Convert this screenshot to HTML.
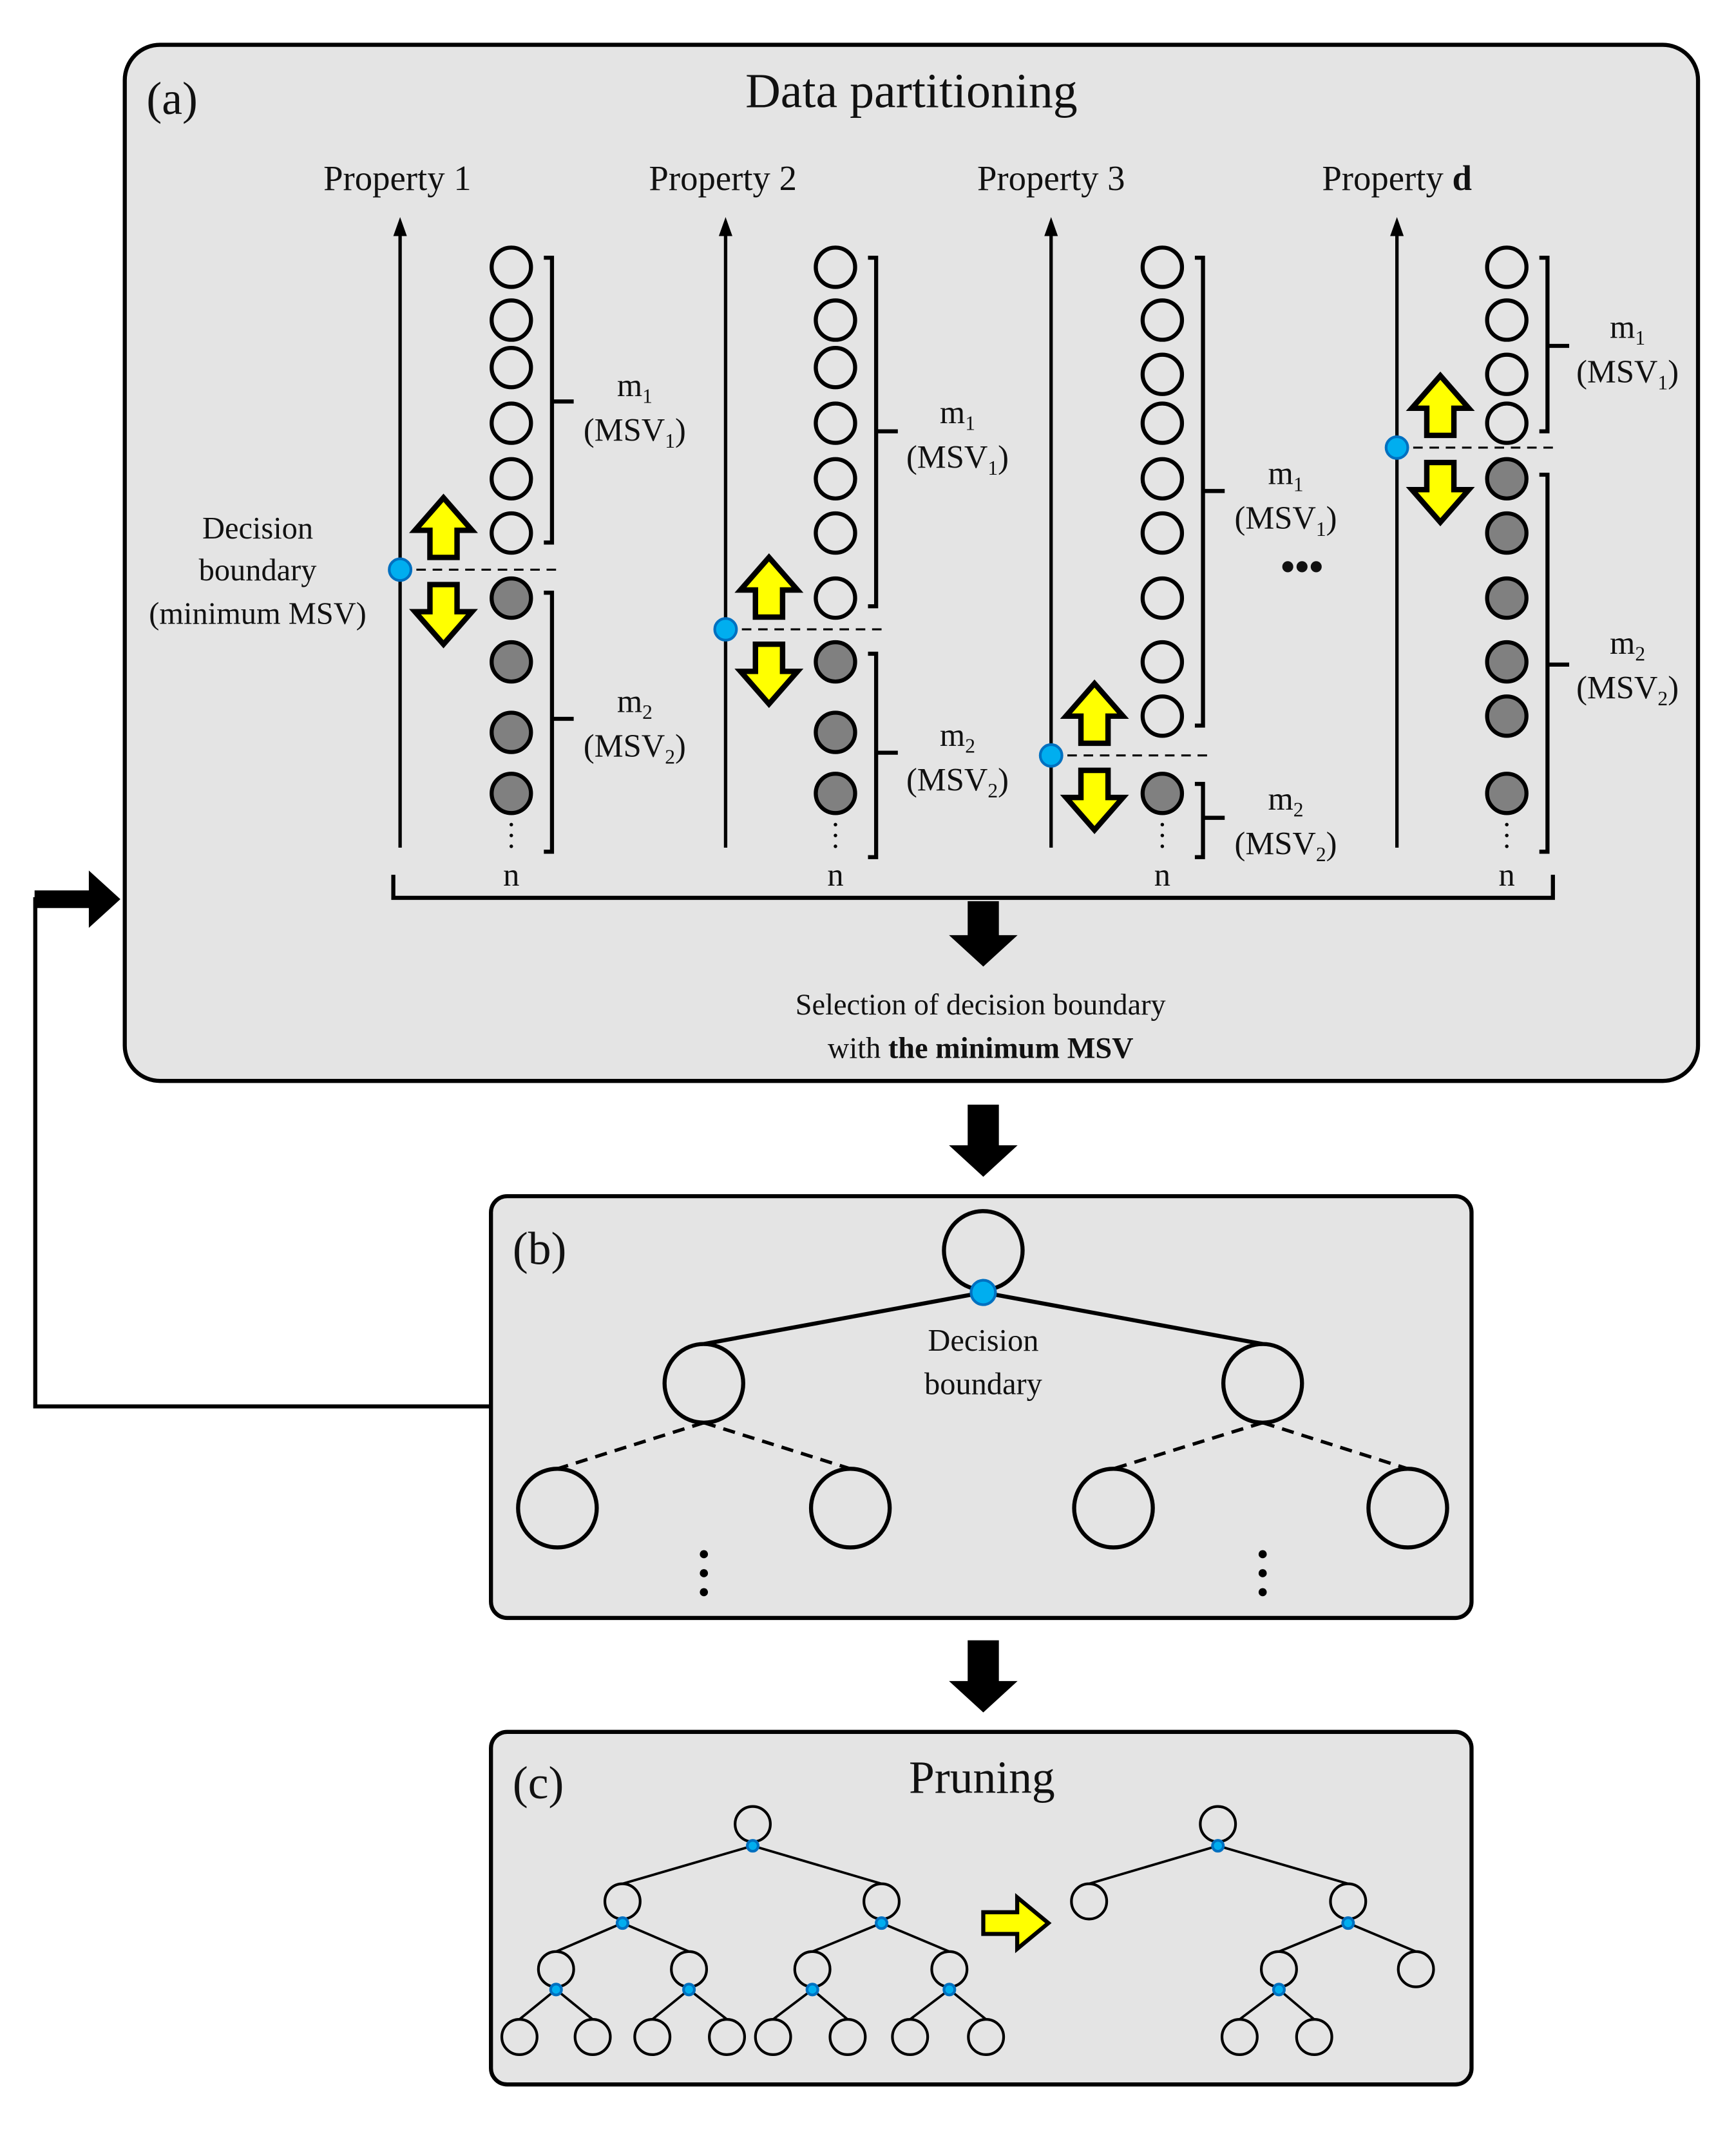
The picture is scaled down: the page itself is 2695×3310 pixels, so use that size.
<!DOCTYPE html>
<html><head><meta charset="utf-8"><style>
html,body{margin:0;padding:0;background:#fff}
svg{display:block}
svg text{font-family:"Liberation Serif","Times New Roman",Times,serif;fill:#111}
</style></head><body>
<svg id="s" width="2695" height="3310" viewBox="0 0 1280 1572" xmlns="http://www.w3.org/2000/svg" font-family="Liberation Serif, Times New Roman, serif">
<rect x="92" y="33" width="1160" height="764" rx="26" fill="#e4e4e4" stroke="#000" stroke-width="3"/>
<rect x="362" y="882" width="723" height="311" rx="12" fill="#e4e4e4" stroke="#000" stroke-width="3"/>
<rect x="362" y="1277" width="723" height="260" rx="12" fill="#e4e4e4" stroke="#000" stroke-width="3"/>

<text x="108" y="84" font-size="34">(a)</text>
<text x="672" y="79" font-size="36" text-anchor="middle">Data partitioning</text>
<text x="293" y="140" font-size="26" text-anchor="middle">Property 1</text>
<text x="533" y="140" font-size="26" text-anchor="middle">Property 2</text>
<text x="775" y="140" font-size="26" text-anchor="middle">Property 3</text>
<text x="1030" y="140" font-size="26" text-anchor="middle">Property <tspan font-weight="bold">d</tspan></text>

<text x="190" y="397" font-size="23" text-anchor="middle">Decision</text>
<text x="190" y="428" font-size="23" text-anchor="middle">boundary</text>
<text x="190" y="460" font-size="23" text-anchor="middle">(minimum MSV)</text>

<g font-size="24" text-anchor="middle">
<text x="468" y="292">m<tspan font-size="15" dy="5">1</tspan></text>
<text x="468" y="325">(MSV<tspan font-size="15" dy="5">1</tspan><tspan dy="-5">)</tspan></text>
<text x="468" y="525">m<tspan font-size="15" dy="5">2</tspan></text>
<text x="468" y="558">(MSV<tspan font-size="15" dy="5">2</tspan><tspan dy="-5">)</tspan></text>
<text x="706" y="312">m<tspan font-size="15" dy="5">1</tspan></text>
<text x="706" y="345">(MSV<tspan font-size="15" dy="5">1</tspan><tspan dy="-5">)</tspan></text>
<text x="706" y="550">m<tspan font-size="15" dy="5">2</tspan></text>
<text x="706" y="583">(MSV<tspan font-size="15" dy="5">2</tspan><tspan dy="-5">)</tspan></text>
<text x="948" y="357">m<tspan font-size="15" dy="5">1</tspan></text>
<text x="948" y="390">(MSV<tspan font-size="15" dy="5">1</tspan><tspan dy="-5">)</tspan></text>
<text x="948" y="597">m<tspan font-size="15" dy="5">2</tspan></text>
<text x="948" y="630">(MSV<tspan font-size="15" dy="5">2</tspan><tspan dy="-5">)</tspan></text>
<text x="1200" y="249">m<tspan font-size="15" dy="5">1</tspan></text>
<text x="1200" y="282">(MSV<tspan font-size="15" dy="5">1</tspan><tspan dy="-5">)</tspan></text>
<text x="1200" y="482">m<tspan font-size="15" dy="5">2</tspan></text>
<text x="1200" y="515">(MSV<tspan font-size="15" dy="5">2</tspan><tspan dy="-5">)</tspan></text>
<text x="377" y="653">n</text><text x="616" y="653">n</text><text x="857" y="653">n</text><text x="1111" y="653">n</text>
</g>
<text x="960" y="428" font-size="30" text-anchor="middle" font-weight="bold">•••</text>

<text x="723" y="748" font-size="22" text-anchor="middle">Selection  of decision  boundary</text>
<text x="723" y="780" font-size="22" text-anchor="middle">with <tspan font-weight="bold">the minimum  MSV</tspan></text>

<text x="378" y="932" font-size="34">(b)</text>
<text x="725" y="996" font-size="23" text-anchor="middle">Decision</text>
<text x="725" y="1028" font-size="23" text-anchor="middle">boundary</text>

<text x="378" y="1326" font-size="34">(c)</text>
<text x="724" y="1322" font-size="34" text-anchor="middle">Pruning</text>

<g id="g" fill="none" stroke="#000"></g>
</svg>
<script>
var g=document.getElementById('g'),NS='http://www.w3.org/2000/svg';
function el(t,a){var e=document.createElementNS(NS,t);for(var k in a)e.setAttribute(k,a[k]);g.appendChild(e);return e;}
function C(x,y,r,f,w){el('circle',{cx:x,cy:y,r:r,fill:f||'none',stroke:'#000','stroke-width':w||3});}
function L(x1,y1,x2,y2,w,d){var a={x1:x1,y1:y1,x2:x2,y2:y2,'stroke-width':w||2};if(d)a['stroke-dasharray']=d;el('line',a);}
function P(d,f,w){el('path',{d:d,fill:f||'none',stroke:'#000','stroke-width':w||3});}
function dot(x,y,r){el('circle',{cx:x,cy:y,r:r||8,fill:'#00aeef',stroke:'#0070c0','stroke-width':2});}
function up(x,y){P('M'+x+','+y+' l-21,24 h11 v20 h20 v-20 h11 Z','#ff0',4);}
function down(x,y){P('M'+x+','+y+' l-21,-24 h11 v-20 h20 v20 h11 Z','#ff0',4);}
function brk(x,y1,y2,ty){P('M'+(x-6)+','+y1+' h6 V'+y2+' h-6',null,3);L(x,ty,x+16,ty,3);}
var cols=[
 {ax:295,cx:377,w:[197,236,271,312,353,393],g:[441,488,540,585],b:420,b1:[190,400,296],b2:[437,628,530]},
 {ax:535,cx:616,w:[197,236,271,312,353,393,441],g:[488,540,585],b:464,b1:[190,447,318],b2:[482,632,555]},
 {ax:775,cx:857,w:[197,236,276,312,353,393,441,488,528],g:[585],b:557,b1:[190,535,362],b2:[578,632,603]},
 {ax:1030,cx:1111,w:[197,236,276,312],g:[353,393,441,488,528,585],b:330,b1:[190,318,255],b2:[350,628,490]}];
cols.forEach(function(c){
 L(c.ax,625,c.ax,170,2.5);
 el('path',{d:'M'+(c.ax-5)+',174 L'+c.ax+',160 L'+(c.ax+5)+',174 Z',fill:'#000',stroke:'none'});
 c.w.forEach(function(y){C(c.cx,y,14.5);});
 c.g.forEach(function(y){C(c.cx,y,14.5,'#808080');});
 [608,616,624].forEach(function(y){el('circle',{cx:c.cx,cy:y,r:1.3,fill:'#000',stroke:'none'});});
 L(c.ax,c.b,c.ax+120,c.b,1.5,'7,5');
 dot(c.ax,c.b,8);
 up(c.ax+32,c.b-53);down(c.ax+32,c.b+55);
 brk(c.cx+30,c.b1[0],c.b1[1],c.b1[2]);brk(c.cx+30,c.b2[0],c.b2[1],c.b2[2]);
});
P('M290,645 v17 H1145 v-17',null,3);
function bd(x,y,h){P('M'+(x-11)+','+y+' h22 v'+(h-22)+' h13 l-24,22 l-24,-22 h13 Z','#000',1);}
bd(725,665,47);bd(725,815,52);bd(725,1210,52);
P('M362,1037 H26 V663 H64',null,3);
P('M26,657 h40 v-14 l22,20 l-22,20 v-14 h-40 Z','#000',1);
L(725,953,519,991,3);L(725,953,931,991,3);
[[411,1112],[627,1112]].forEach(function(p){L(519,1049,p[0],p[1]-29,2.5,'9,6');});
[[821,1112],[1038,1112]].forEach(function(p){L(931,1049,p[0],p[1]-29,2.5,'9,6');});
C(725,922,29);C(519,1020,29);C(931,1020,29);
[411,627,821,1038].forEach(function(x){C(x,1112,29);});
dot(725,953,9);
[519,931].forEach(function(x){[1146,1160,1174].forEach(function(y){el('circle',{cx:x,cy:y,r:3,fill:'#000',stroke:'none'});});});
function tc(nodes,edges,dots){edges.forEach(function(e){L(e[0],e[1],e[2],e[3],1.8);});nodes.forEach(function(n){C(n[0],n[1],13,'#e4e4e4',2);});dots.forEach(function(d){dot(d[0],d[1],4);});}
var N=[[555,1345],[459,1402],[650,1402],[410,1452],[508,1452],[599,1452],[700,1452],[383,1502],[437,1502],[481,1502],[536,1502],[570,1502],[625,1502],[671,1502],[727,1502]];
var E=[[555,1361,459,1389],[555,1361,650,1389],[459,1418,410,1439],[459,1418,508,1439],[650,1418,599,1439],[650,1418,700,1439],
[410,1467,383,1489],[410,1467,437,1489],[508,1467,481,1489],[508,1467,536,1489],[599,1467,570,1489],[599,1467,625,1489],[700,1467,671,1489],[700,1467,727,1489]];
tc(N,E,[[555,1361],[459,1418],[650,1418],[410,1467],[508,1467],[599,1467],[700,1467]]);
tc([[898,1345],[803,1402],[994,1402],[943,1452],[1044,1452],[914,1502],[969,1502]],
 [[898,1361,803,1389],[898,1361,994,1389],[994,1418,943,1439],[994,1418,1044,1439],[943,1467,914,1489],[943,1467,969,1489]],
 [[898,1361],[994,1418],[943,1467]]);
P('M725,1410 h25 v-11 l23,19 l-23,19 v-11 h-25 Z','#ff0',3);
</script>
</body></html>
